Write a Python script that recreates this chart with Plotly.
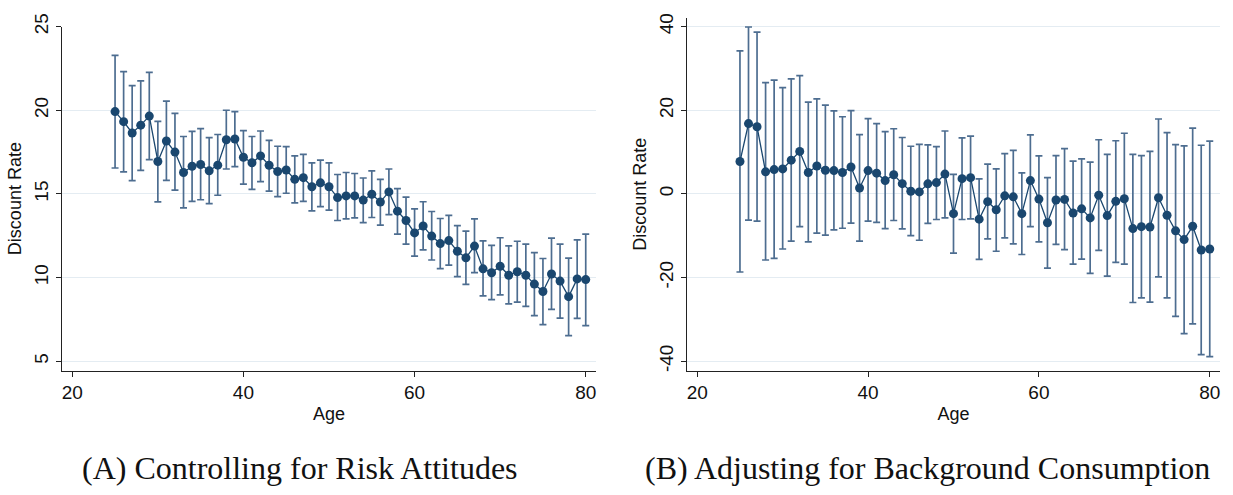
import plotly.graph_objects as go

# Ages covered by both panels
ages = list(range(25, 81))

# Panel A: discount rate controlling for risk attitudes (point estimate, 95% CI)
rate_a = [19.92, 19.32, 18.64, 19.11, 19.65, 16.94, 18.16, 17.50, 16.28, 16.65,
          16.76, 16.38, 16.72, 18.24, 18.28, 17.19, 16.86, 17.27, 16.71, 16.34,
          16.43, 15.87, 15.97, 15.43, 15.66, 15.43, 14.78, 14.88, 14.88, 14.63,
          14.98, 14.52, 15.12, 13.97, 13.41, 12.67, 13.08, 12.48, 12.03, 12.21,
          11.57, 11.18, 11.88, 10.52, 10.29, 10.68, 10.14, 10.35, 10.14, 9.61,
          9.17, 10.21, 9.79, 8.86, 9.92, 9.88]
hi_a = [23.28, 22.31, 21.47, 21.76, 22.27, 19.34, 20.54, 19.81, 18.43, 18.74,
        18.90, 18.37, 18.55, 20.00, 19.92, 18.78, 18.43, 18.76, 18.20, 17.85,
        17.83, 17.27, 17.36, 16.86, 17.02, 16.86, 16.16, 16.28, 16.22, 15.95,
        16.38, 15.87, 16.49, 15.31, 14.81, 14.11, 14.53, 13.95, 13.53, 13.72,
        13.10, 12.77, 13.51, 12.19, 11.92, 12.38, 11.90, 12.17, 12.00, 11.49,
        11.14, 12.36, 12.00, 11.16, 12.25, 12.60]
lo_a = [16.55, 16.32, 15.79, 16.41, 17.05, 14.52, 15.81, 15.23, 14.17, 14.55,
        14.65, 14.42, 14.92, 16.49, 16.63, 15.58, 15.27, 15.74, 15.17, 14.84,
        15.04, 14.46, 14.55, 13.99, 14.24, 14.03, 13.41, 13.51, 13.57, 13.28,
        13.59, 13.14, 13.76, 12.60, 12.00, 11.28, 11.65, 11.05, 10.54, 10.74,
        10.06, 9.59, 10.29, 8.90, 8.68, 8.97, 8.43, 8.53, 8.28, 7.73,
        7.19, 8.10, 7.58, 6.53, 7.56, 7.13]

# Panel B: discount rate adjusting for background consumption
rate_b = [7.75, 16.82, 16.05, 5.27, 5.81, 5.97, 8.06, 10.16, 5.12, 6.67,
          5.66, 5.58, 5.12, 6.43, 1.40, 5.58, 4.96, 3.18, 4.57, 2.45,
          0.62, 0.47, 2.40, 2.71, 4.73, -4.73, 3.64, 3.88, -6.05, -1.86,
          -3.80, -0.47, -0.70, -4.73, 3.18, -1.24, -6.90, -1.47, -1.32, -4.57,
          -3.57, -5.74, -0.31, -5.19, -1.78, -1.16, -8.29, -7.83, -7.91, -0.93,
          -5.12, -8.84, -10.93, -7.75, -13.41, -13.18]
hi_b = [34.19, 39.92, 38.68, 26.59, 27.21, 25.43, 27.52, 28.29, 21.94, 22.71,
        21.24, 19.84, 18.45, 19.92, 14.19, 17.98, 16.82, 14.88, 15.58, 13.49,
        11.40, 11.86, 11.71, 11.32, 15.04, 4.65, 13.41, 13.80, 3.57, 7.13,
        5.97, 9.61, 10.39, 5.04, 14.11, 9.07, 3.88, 9.15, 10.85, 7.83,
        8.37, 7.60, 12.95, 9.46, 12.71, 14.50, 9.46, 9.15, 10.16, 17.91,
        14.65, 11.78, 11.47, 15.74, 11.63, 12.64]
lo_b = [-18.68, -6.28, -6.51, -15.81, -15.43, -13.18, -11.32, -7.83, -11.47, -9.38,
        -9.84, -8.60, -8.22, -6.98, -11.32, -6.51, -6.82, -8.29, -6.36, -8.37,
        -10.00, -11.09, -7.05, -6.12, -5.74, -14.19, -6.12, -5.97, -15.66, -10.78,
        -13.72, -10.54, -11.94, -14.50, -7.83, -11.47, -17.75, -12.09, -13.33, -16.82,
        -15.58, -18.99, -13.49, -19.69, -16.36, -16.82, -25.97, -24.88, -25.89, -19.84,
        -24.88, -29.30, -33.41, -31.09, -38.45, -38.91]

x_ticks = [20, 40, 60, 80]
y_ticks_a = [5, 10, 15, 20, 25]
y_ticks_b = [-40, -20, 0, 20, 40]

captions = ["(A) Controlling for Risk Attitudes",
            "(B) Adjusting for Background Consumption"]

NAVY = "#1a476f"
CI_COLOR = "#4d6d90"
W, H = 1233, 495


def panel(rate, hi, lo, xa, ya):
    return go.Scatter(
        x=ages, y=rate, xaxis=xa, yaxis=ya, mode="lines+markers",
        line=dict(color=NAVY, width=1.3),
        marker=dict(color=NAVY, size=9),
        error_y=dict(type="data", symmetric=False,
                     array=[h - r for h, r in zip(hi, rate)],
                     arrayminus=[r - l for r, l in zip(rate, lo)],
                     color=CI_COLOR, thickness=1.7, width=3.5),
        showlegend=False, hoverinfo="skip",
    )


fig = go.Figure([
    panel(rate_a, hi_a, lo_a, "x", "y"),
    panel(rate_b, hi_b, lo_b, "x2", "y2"),
])


def px_x(p):
    return p / W


def px_y(p):
    return 1 - p / H


axis_font = dict(family="Liberation Sans, Arial, sans-serif", size=19, color="#111")
title_font = dict(family="Liberation Sans, Arial, sans-serif", size=18, color="#111")
caption_font = dict(family="Liberation Serif, serif", size=32, color="#111")

common_x = dict(range=[18.8, 81.2], tickvals=x_ticks, showgrid=False, zeroline=False,
                showline=True, linecolor="#222", linewidth=1.2, ticks="outside",
                ticklen=5, tickcolor="#222", tickfont=axis_font,
                title=dict(text="Age", font=title_font, standoff=4))
common_y = dict(showgrid=True, gridcolor="#e4ecf2", gridwidth=1, zeroline=False,
                showline=True, linecolor="#222", linewidth=1.2, ticks="outside",
                ticklen=5, tickcolor="#222", tickfont=axis_font, tickangle=-90,
                title=dict(text="Discount Rate", font=title_font, standoff=4))

fig.update_layout(
    width=W, height=H,
    margin=dict(l=0, r=0, t=0, b=0),
    paper_bgcolor="white", plot_bgcolor="white",
    xaxis=dict(domain=[px_x(62), px_x(596)], anchor="y", **common_x),
    yaxis=dict(domain=[px_y(368), px_y(14)], anchor="x", range=[4.44, 25.0],
               tickvals=y_ticks_a, ticktext=[str(v) for v in y_ticks_a], **common_y),
    xaxis2=dict(domain=[px_x(687), px_x(1220)], anchor="y2", **common_x),
    yaxis2=dict(domain=[px_y(368), px_y(5)], anchor="x2", range=[-42.26, 42.1],
                tickvals=y_ticks_b, ticktext=[str(v) for v in y_ticks_b], **common_y),
    annotations=[
        dict(text=captions[0], x=px_x(300), y=px_y(468), xanchor="center",
             yanchor="middle", xref="paper", yref="paper", showarrow=False,
             font=caption_font),
        dict(text=captions[1], x=px_x(927), y=px_y(468), xanchor="center",
             yanchor="middle", xref="paper", yref="paper", showarrow=False,
             font=caption_font),
    ],
)

fig.write_html("out.html")
